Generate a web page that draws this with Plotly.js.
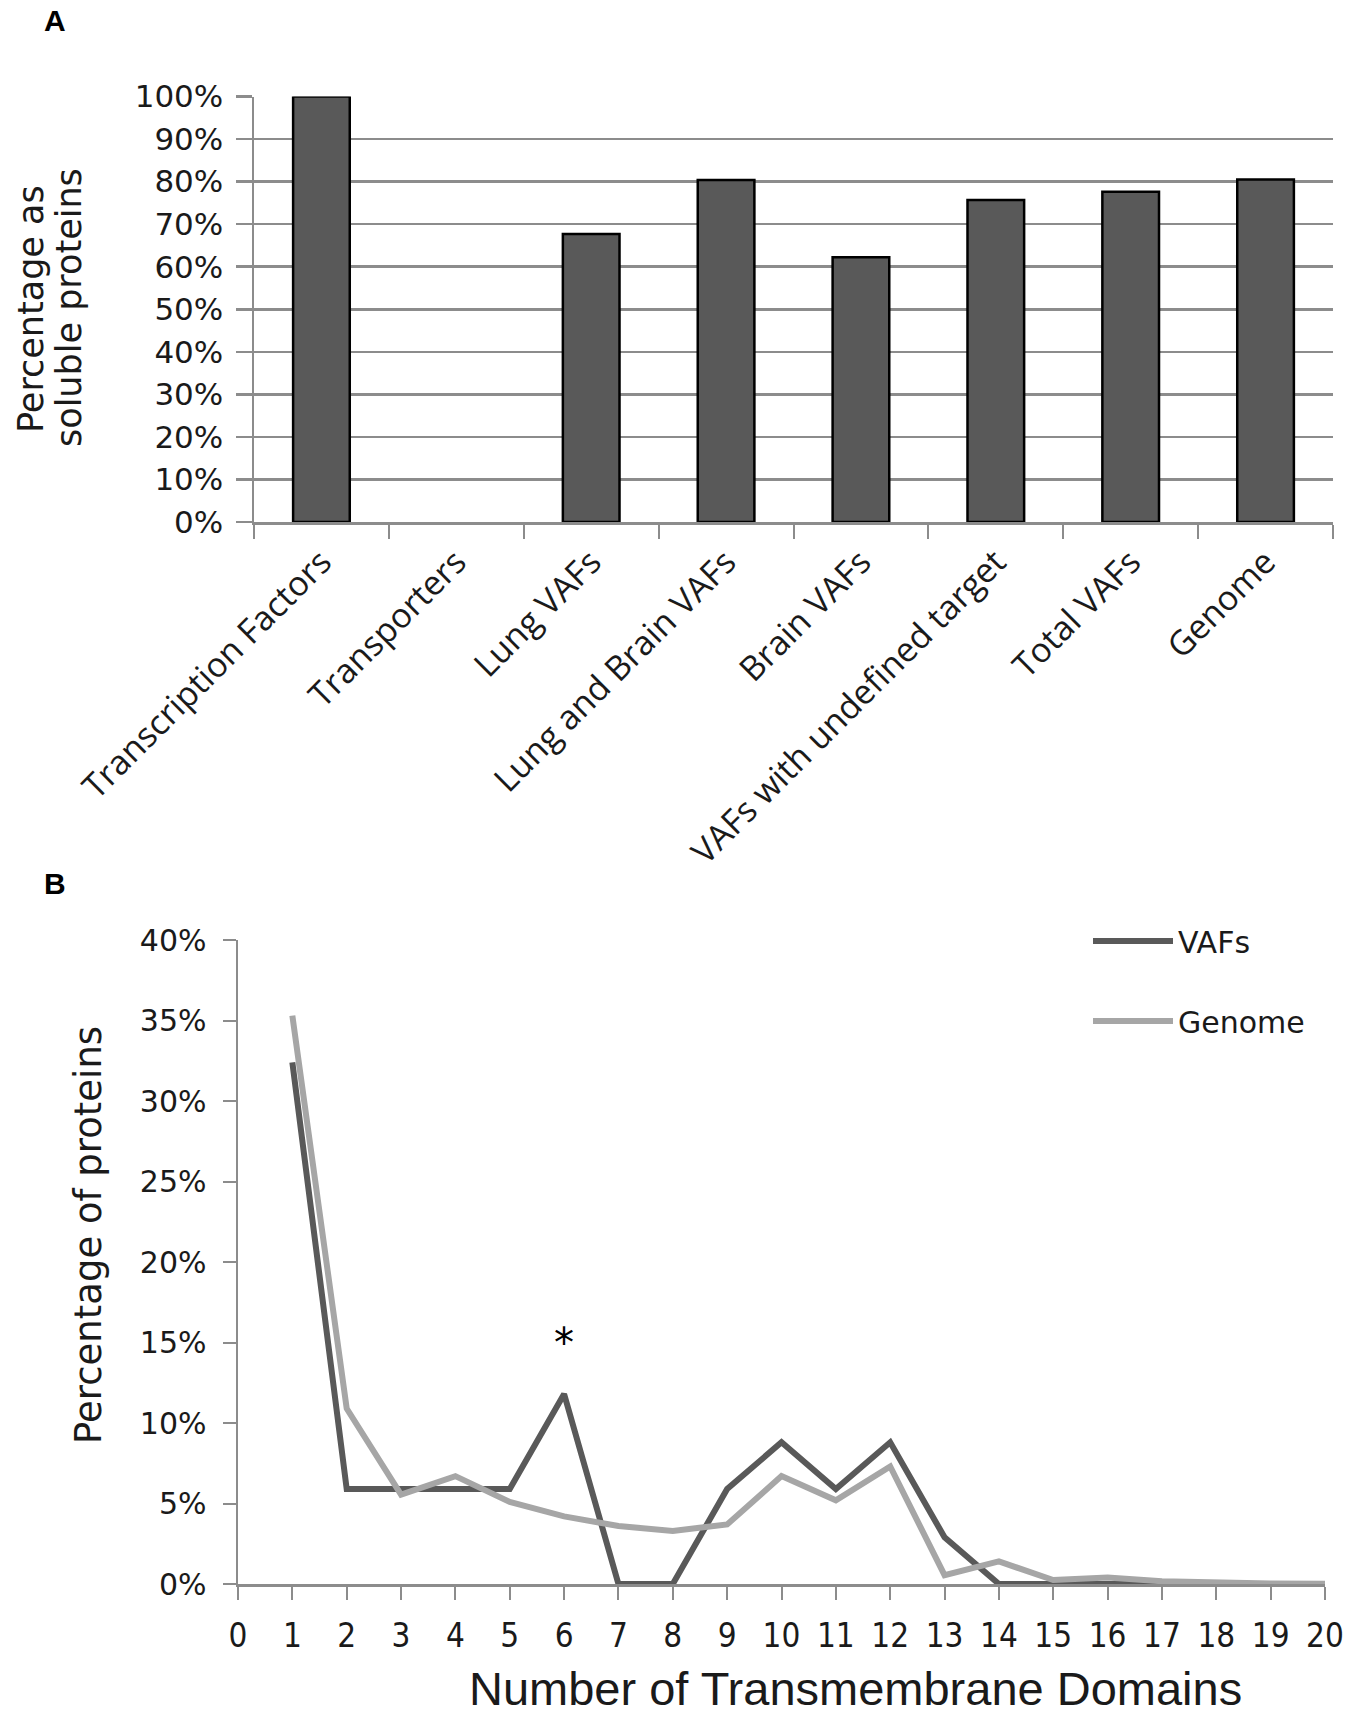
<!DOCTYPE html>
<html>
<head>
<meta charset="utf-8">
<script src="https://cdn.plot.ly/plotly-3.0.1.min.js"></script>
<style>
  html, body { margin: 0; padding: 0; background: #fff; }
  #chart { width: 1350px; height: 1720px; }
</style>
</head>
<body>
<div id="chart"></div>
<script>
// panel A - soluble share per protein group
const categories = ['Transcription Factors', 'Transporters', 'Lung VAFs', 'Lung and Brain VAFs',
  'Brain VAFs', 'VAFs with undefined target', 'Total VAFs', 'Genome'];
const solubleShare = [1.00, 0, 0.677, 0.804, 0.622, 0.757, 0.776, 0.805];

// panel B - distribution of transmembrane domains
const tmDomains = [1, 2, 3, 4, 5, 6, 7, 8, 9, 10, 11, 12, 13, 14, 15, 16, 17, 18, 19, 20];
const vafShare = [0.324, 0.059, 0.059, 0.059, 0.059, 0.118, 0, 0, 0.059, 0.088,
  0.059, 0.088, 0.029, 0, 0, 0, 0, 0, 0, 0];
const genomeShare = [0.353, 0.109, 0.0555, 0.067, 0.051, 0.042, 0.036, 0.033, 0.037, 0.067,
  0.052, 0.073, 0.0055, 0.014, 0.0025, 0.004, 0.0017, 0.0007, 0.0003, 0.0002];
const xTickVals = [0, 1, 2, 3, 4, 5, 6, 7, 8, 9, 10, 11, 12, 13, 14, 15, 16, 17, 18, 19, 20];

const axisGrey = '#8c8c8c';
const textCol = '#1a1a1a';
const W = 1350, H = 1720;

// excel draws nothing for an empty bar, so drop the outline there
let barOutline = solubleShare.map(v => v > 0 ? 2.5 : 0);

let traces = [
  {
    type: 'bar', x: categories, y: solubleShare, xaxis: 'x', yaxis: 'y',
    width: 0.42, showlegend: false, hoverinfo: 'x+y',
    marker: { color: '#595959', line: { color: '#000', width: barOutline } }
  },
  {
    type: 'scatter', mode: 'lines', name: 'VAFs', x: tmDomains, y: vafShare,
    xaxis: 'x2', yaxis: 'y2', legendgroup: 'a',
    line: { color: '#595959', width: 6 }
  },
  {
    type: 'scatter', mode: 'lines', name: 'Genome', x: tmDomains, y: genomeShare,
    xaxis: 'x2', yaxis: 'y2', legendgroup: 'b',
    line: { color: '#a6a6a6', width: 6 }
  }
];

var layout = {
  width: W, height: H,
  margin: { l: 0, r: 0, t: 0, b: 0 },
  paper_bgcolor: '#fff', plot_bgcolor: '#fff',
  xaxis: {
    domain: [254 / W, 1333 / W], anchor: 'y', type: 'category', range: [-0.5, 7.5],
    tickson: 'boundaries', ticks: 'outside', ticklen: 14, tickwidth: 2, tickcolor: axisGrey,
    showline: true, linecolor: axisGrey, linewidth: 2.5, showgrid: false,
    tickangle: -45, ticklabelstandoff: 4,
    tickfont: { family: 'Open Sans', size: 34, color: textCol }
  },
  yaxis: {
    domain: [1198 / H, 1623.5 / H], anchor: 'x', range: [0, 1], dtick: 0.1, tickformat: '.0%',
    showgrid: true, gridcolor: axisGrey, gridwidth: 2.5, zeroline: false,
    ticks: 'outside', ticklen: 16, tickwidth: 2.5, tickcolor: axisGrey, ticklabelstandoff: 6,
    showline: true, linecolor: axisGrey, linewidth: 2.5,
    tickfont: { family: 'DejaVu Sans', size: 31, color: textCol }
  },
  xaxis2: {
    domain: [238 / W, 1325 / W], anchor: 'y2', range: [0, 20], tickvals: xTickVals,
    ticks: 'outside', ticklen: 13, tickwidth: 2, tickcolor: axisGrey,
    showline: true, linecolor: axisGrey, linewidth: 2.5, showgrid: false, zeroline: false,
    ticklabelstandoff: 8,
    tickfont: { family: 'DejaVu Sans Condensed, Liberation Sans', size: 33, color: textCol }
  },
  yaxis2: {
    domain: [136 / H, 780 / H], anchor: 'x2', range: [0, 0.4], dtick: 0.05, tickformat: '.0%',
    ticks: 'outside', ticklen: 13, tickwidth: 2, tickcolor: axisGrey,
    showline: true, linecolor: axisGrey, linewidth: 2.5, showgrid: false, zeroline: false,
    ticklabelstandoff: 10,
    tickfont: { family: 'DejaVu Sans', size: 30, color: textCol }
  },
  legend: {
    x: 1088 / W, y: 1 - 915 / H, xanchor: 'left', yanchor: 'top',
    bgcolor: 'rgba(0,0,0,0)', itemwidth: 80, tracegroupgap: 38,
    font: { family: 'DejaVu Sans', size: 30, color: textCol }
  },
  annotations: [
    { xref: 'paper', yref: 'paper', x: 42 / W, y: 1 - 20 / H, text: '<b>A</b>', showarrow: false,
      xanchor: 'left', yanchor: 'middle', font: { family: 'Liberation Sans', size: 30, color: '#000' } },
    { xref: 'paper', yref: 'paper', x: 42 / W, y: 1 - 883 / H, text: '<b>B</b>', showarrow: false,
      xanchor: 'left', yanchor: 'middle', font: { family: 'Liberation Sans', size: 30, color: '#000' } },
    { xref: 'paper', yref: 'paper', x: 31 / W, y: 1 - 309 / H, text: 'Percentage as',
      showarrow: false, textangle: -90, xanchor: 'center', yanchor: 'middle',
      font: { family: 'DejaVu Sans', size: 35, color: textCol } },
    { xref: 'paper', yref: 'paper', x: 69 / W, y: 1 - 308 / H, text: 'soluble proteins',
      showarrow: false, textangle: -90, xanchor: 'center', yanchor: 'middle',
      font: { family: 'DejaVu Sans', size: 35, color: textCol } },
    { xref: 'paper', yref: 'paper', x: 88 / W, y: 1 - 1235 / H, text: 'Percentage of proteins',
      showarrow: false, textangle: -90, xanchor: 'center', yanchor: 'middle',
      font: { family: 'DejaVu Sans', size: 37, color: textCol } },
    { xref: 'paper', yref: 'paper', x: 855 / W, y: 1 - 1688 / H, text: 'Number of Transmembrane Domains',
      showarrow: false, xanchor: 'center', yanchor: 'middle',
      font: { family: 'Liberation Sans', size: 47, color: textCol } },
    { xref: 'x2', yref: 'y2', x: 6, y: 0.15, text: '*', showarrow: false,
      xanchor: 'center', yanchor: 'middle', font: { family: 'DejaVu Sans', size: 40, color: '#000' } }
  ]
};

Plotly.newPlot('chart', traces, layout, { displayModeBar: false, staticPlot: true });
</script>
</body>
</html>
